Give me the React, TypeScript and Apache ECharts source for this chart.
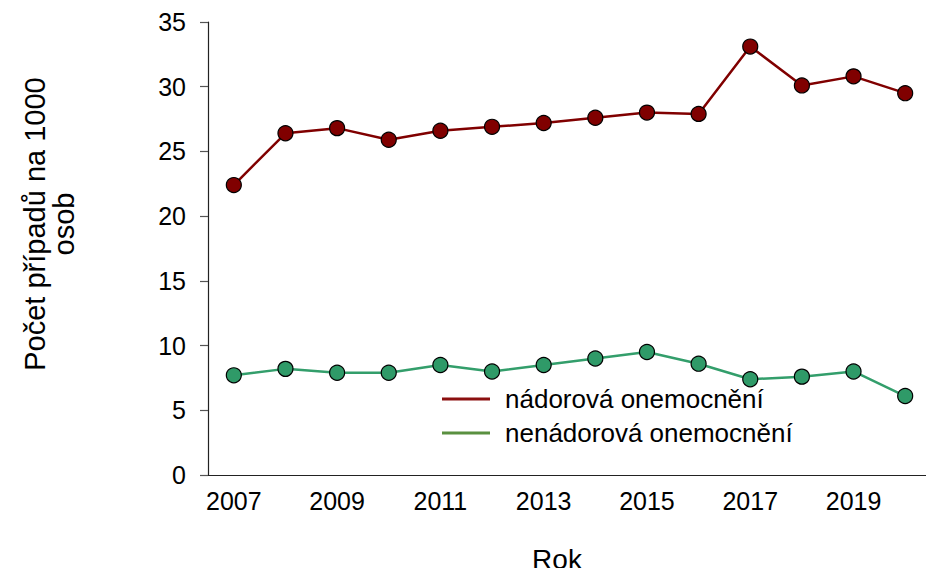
import React, { useEffect, useRef } from "react";
import * as echarts from "echarts";

const years = ["2007","2008","2009","2010","2011","2012","2013","2014","2015","2016","2017","2018","2019","2020"];
const tumor = [22.4, 26.4, 26.8, 25.9, 26.6, 26.9, 27.2, 27.6, 28.0, 27.9, 33.1, 30.1, 30.8, 29.5];
const nonTumor = [7.7, 8.2, 7.9, 7.9, 8.5, 8.0, 8.5, 9.0, 9.5, 8.6, 7.4, 7.6, 8.0, 6.1];
const seriesNames = ["nádorová onemocnění", "nenádorová onemocnění"];
const yTitle = "Počet případů na 1000\nosob";
const xTitle = "Rok";

const FONT = "'Liberation Sans', Arial, sans-serif";

export default function App() {
  const ref = useRef<HTMLDivElement>(null);
  useEffect(() => {
    if (!ref.current) return;
    const chart = echarts.init(ref.current, undefined, { renderer: "svg" });
    chart.setOption({
      animation: false,
      backgroundColor: "#ffffff",
      textStyle: { fontFamily: FONT },
      grid: { left: 208, right: 3, top: 22, bottom: 101, containLabel: false },
      xAxis: {
        type: "category",
        data: years,
        boundaryGap: true,
        axisLine: { lineStyle: { color: "#222", width: 1.2 } },
        axisTick: { interval: 0, length: 8, lineStyle: { color: "#555", width: 1.2 } },
        axisLabel: { interval: 1, color: "#000", fontSize: 25, margin: 13, fontFamily: FONT },
        splitLine: { show: false },
      },
      yAxis: {
        type: "value",
        min: 0,
        max: 35,
        interval: 5,
        axisLine: { show: true, lineStyle: { color: "#222", width: 1.2 } },
        axisTick: { show: true, length: 8, lineStyle: { color: "#555", width: 1.2 } },
        axisLabel: { color: "#000", fontSize: 25, margin: 22, fontFamily: FONT },
        splitLine: { show: false },
      },
      legend: {
        orient: "vertical",
        left: 437,
        top: 381,
        itemWidth: 48,
        itemHeight: 3,
        itemGap: 8,
        icon: "rect",
        textStyle: { color: "#000", fontSize: 26, lineHeight: 26, fontFamily: FONT, padding: [0, 0, 0, 10] },
        data: [
          { name: seriesNames[0], itemStyle: { color: "#8b0f0f", borderWidth: 0 } },
          { name: seriesNames[1], itemStyle: { color: "#5a9040", borderWidth: 0 } },
        ],
      },
      series: [
        {
          name: seriesNames[0],
          type: "line",
          data: tumor,
          symbol: "circle",
          symbolSize: 15,
          lineStyle: { color: "#800000", width: 2.5 },
          itemStyle: { color: "#800000", borderColor: "#000", borderWidth: 1.2 },
        },
        {
          name: seriesNames[1],
          type: "line",
          data: nonTumor,
          symbol: "circle",
          symbolSize: 15,
          lineStyle: { color: "#339e6b", width: 2.5 },
          itemStyle: { color: "#2f9a68", borderColor: "#000", borderWidth: 1.2 },
        },
      ],
      graphic: [
        {
          type: "text",
          x: 49,
          y: 224,
          rotation: Math.PI / 2,
          style: {
            text: yTitle,
            fontSize: 29,
            lineHeight: 29,
            fontFamily: FONT,
            fill: "#000",
            align: "center",
            verticalAlign: "middle",
          },
        },
        {
          type: "text",
          x: 557,
          y: 559,
          style: {
            text: xTitle,
            fontSize: 28,
            fontFamily: FONT,
            fill: "#000",
            align: "center",
            verticalAlign: "middle",
          },
        },
      ],
    });
    return () => chart.dispose();
  }, []);
  return <div ref={ref} style={{ width: 934, height: 576, margin: -8 }} />;
}
